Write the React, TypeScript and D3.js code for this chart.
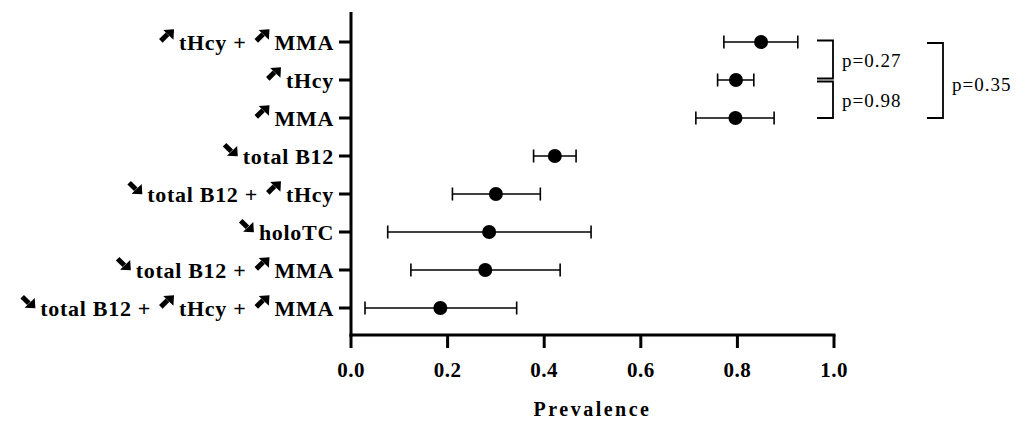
import React from "react";
import * as d3 from "d3";

// categories (top to bottom); "^" = raised, "v" = lowered
const categories = [
  "^ tHcy + ^ MMA",
  "^ tHcy",
  "^ MMA",
  "v total B12",
  "v total B12 + ^ tHcy",
  "v holoTC",
  "v total B12 + ^ MMA",
  "v total B12 + ^ tHcy + ^ MMA",
];
const prevalence = [0.849, 0.797, 0.796, 0.422, 0.3, 0.286, 0.278, 0.185];
const ciLow = [0.772, 0.759, 0.714, 0.378, 0.21, 0.076, 0.124, 0.029];
const ciHigh = [0.925, 0.834, 0.876, 0.466, 0.392, 0.497, 0.433, 0.343];
const xTicks = [0, 0.2, 0.4, 0.6, 0.8, 1.0];

// pairwise comparisons between rows
const compFrom = [0, 1, 0];
const compTo = [1, 2, 2];
const compLabel = ["p=0.27", "p=0.98", "p=0.35"];
const compLevel = [0, 0, 1];

const W = 1030;
const H = 423;
const serif = "'Liberation Serif', 'Times New Roman', serif";
const labelSize = 22;
const labelSpacing = 0.7;

let ctx: CanvasRenderingContext2D | null = null;
function textWidth(s: string, font: string, ls: number) {
  if (!ctx) ctx = document.createElement("canvas").getContext("2d");
  if (!ctx) return s.length * 11;
  ctx.font = font;
  return ctx.measureText(s).width + ls * s.length;
}

// heavy diagonal arrow in a 15x13 box
function Arrow({ x, y, up }: { x: number; y: number; up: boolean }) {
  const t = up ? `translate(${x},${y})` : `translate(${x},${y + 13}) scale(1,-1)`;
  return (
    <g transform={t}>
      <line x1={1.8} y1={11.6} x2={8.5} y2={5} stroke="#000" strokeWidth={5} />
      <path d="M15,0 L4.2,0.6 L14.4,10.4 Z" fill="#000" />
    </g>
  );
}

export default function App() {
  const x = d3.scaleLinear().domain([0, 1]).range([351, 834]);
  const y = d3.scalePoint<string>().domain(categories).range([42, 308]);

  const axisY = 335;
  const capH = 6.5;
  const labelFont = `bold ${labelSize}px 'Liberation Serif'`;

  const renderLabel = (label: string, cy: number, key: number) => {
    const tokens = label
      .split(/([\^v](?= ))/)
      .map((s) => s.trim())
      .filter((s) => s.length > 0);
    // lay out right to left from the tick
    let cursor = 334;
    const items: React.ReactNode[] = [];
    for (let i = tokens.length - 1; i >= 0; i--) {
      const tk = tokens[i];
      if (tk === "^" || tk === "v") {
        cursor -= 5 + 15;
        items.push(<Arrow key={key + "a" + i} x={cursor} y={cy - 12.7} up={tk === "^"} />);
        cursor -= 8;
      } else {
        const w = textWidth(tk, labelFont, labelSpacing);
        items.push(
          <text
            key={key + "t" + i}
            x={cursor}
            y={cy + 8}
            textAnchor="end"
            fontFamily={serif}
            fontWeight="bold"
            fontSize={labelSize}
            letterSpacing={labelSpacing}
          >
            {tk}
          </text>
        );
        cursor -= w;
      }
    }
    return items;
  };

  return (
    <svg
      width={W}
      height={H}
      style={{ position: "absolute", left: 0, top: 0, background: "#fff" }}
    >
      {/* y axis */}
      <line x1={351} x2={351} y1={12} y2={axisY + 1.5} stroke="#000" strokeWidth={3} />
      {categories.map((c, i) => (
        <g key={c}>
          <line x1={339} x2={351} y1={y(c)} y2={y(c)} stroke="#000" strokeWidth={3} />
          {renderLabel(c, y(c)!, i)}
        </g>
      ))}

      {/* x axis */}
      <line x1={x(0) - 1.5} x2={x(1) + 1.5} y1={axisY} y2={axisY} stroke="#000" strokeWidth={3} />
      {xTicks.map((t) => (
        <g key={t}>
          <line x1={x(t)} x2={x(t)} y1={axisY} y2={axisY + 13} stroke="#000" strokeWidth={3} />
          <text
            x={x(t)}
            y={377}
            textAnchor="middle"
            fontFamily={serif}
            fontWeight="bold"
            fontSize={21}
            letterSpacing={0.5}
          >
            {d3.format(".1f")(t)}
          </text>
        </g>
      ))}
      <text
        x={(x(0) + x(1)) / 2}
        y={416}
        textAnchor="middle"
        fontFamily={serif}
        fontWeight="bold"
        fontSize={20}
        letterSpacing={2.5}
      >
        Prevalence
      </text>

      {/* error bars and points */}
      {categories.map((c, i) => {
        const cy = y(c)!;
        return (
          <g key={"e" + i}>
            <line x1={x(ciLow[i])} x2={x(ciHigh[i])} y1={cy} y2={cy} stroke="#000" strokeWidth={1.6} />
            <line x1={x(ciLow[i])} x2={x(ciLow[i])} y1={cy - capH} y2={cy + capH} stroke="#000" strokeWidth={1.6} />
            <line x1={x(ciHigh[i])} x2={x(ciHigh[i])} y1={cy - capH} y2={cy + capH} stroke="#000" strokeWidth={1.6} />
            <circle cx={x(prevalence[i])} cy={cy} r={7} fill="#000" />
          </g>
        );
      })}

      {/* significance brackets */}
      {compLabel.map((lab, i) => {
        const inner = compLevel[i] === 0;
        const xr = inner ? 833 : 943;
        const xl = xr - 16;
        const y1 = y(categories[compFrom[i]])! + (inner && compFrom[i] > 0 ? 1.5 : inner ? -1.5 : 1);
        const y2 = y(categories[compTo[i]])! + (inner && compTo[i] === 1 ? -1.5 : 0);
        return (
          <g key={"b" + i}>
            <path
              d={`M${xl},${y1}H${xr}V${y2}H${xl}`}
              fill="none"
              stroke="#000"
              strokeWidth={1.8}
            />
            <text
              x={xr + 9}
              y={(y1 + y2) / 2 + (inner ? 1 : 4)}
              dy="0.35em"
              fontFamily={serif}
              fontSize={19}
              letterSpacing={1}
            >
              {lab}
            </text>
          </g>
        );
      })}
    </svg>
  );
}
